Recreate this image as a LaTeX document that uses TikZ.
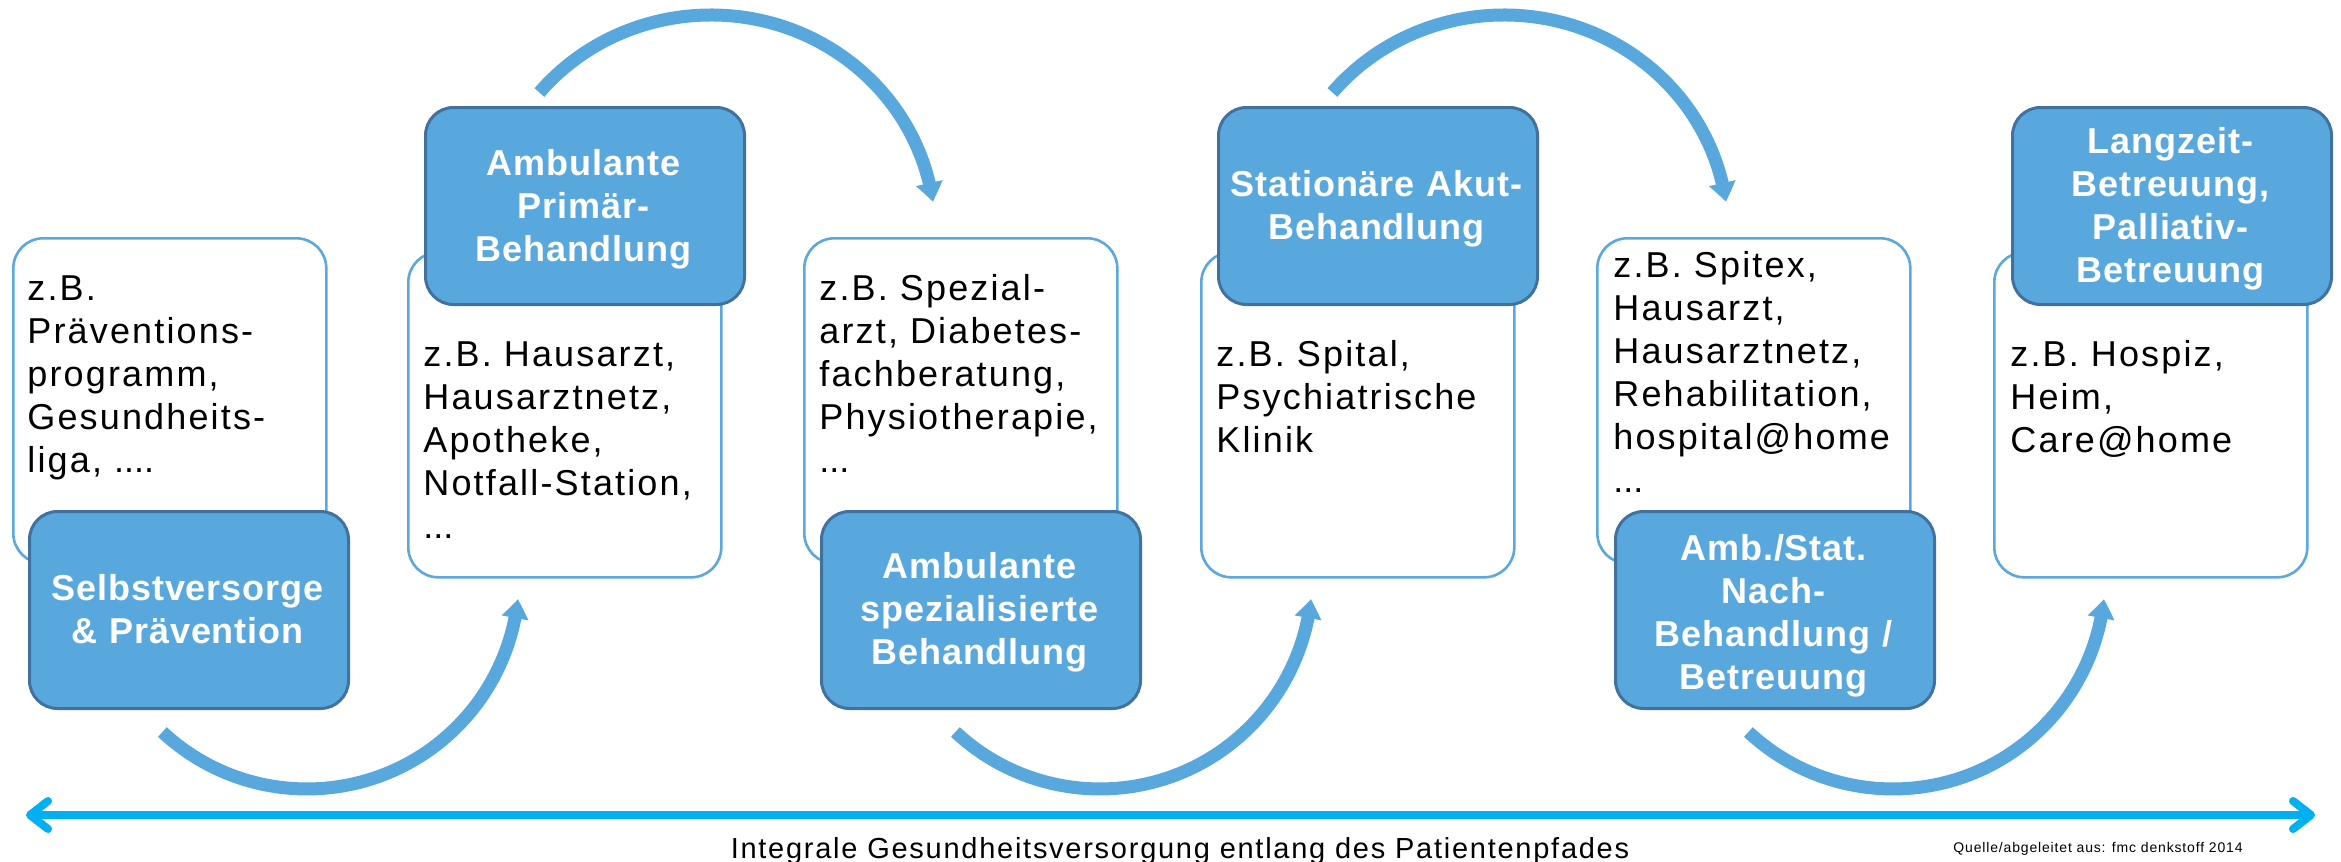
\documentclass[tikz,border=0pt]{standalone}
\usepackage{fontspec}
\setmainfont{Liberation Sans}
\newfontfamily\bodyfont[LetterSpace=6]{Liberation Sans}
\newfontfamily\headfont[LetterSpace=2.5]{Liberation Sans}
\newcommand\closedots[1]{{\addfontfeature{LetterSpace=0}#1}}
\usetikzlibrary{arrows.meta,bending}
\definecolor{stagefill}{HTML}{58A8DE}
\definecolor{stageline}{HTML}{41729F}
\definecolor{cardline}{HTML}{5BA8DE}
\definecolor{patharrow}{HTML}{00B0F0}
\begin{document}
\begin{tikzpicture}[x=0.5pt,y=-0.5pt,
  card/.style={draw=cardline, line width=1.3pt, fill=white, rounded corners=15pt,
    minimum width=156.5pt, minimum height=162.5pt, inner sep=0pt, anchor=north west},
  stage/.style={draw=stageline, line width=1.5pt, fill=stagefill, rounded corners=14pt,
    minimum width=159.5pt, minimum height=98.5pt, inner sep=0pt, anchor=north west},
  cardtext/.style={anchor=base west, inner sep=0pt, text width=150pt, align=left,
    font=\bodyfont\fontsize{18pt}{21.5pt}\selectfont},
  stagetext/.style={anchor=base, inner sep=0pt, text width=158pt, align=center, text=white,
    font=\headfont\bfseries\fontsize{18pt}{21.5pt}\selectfont},
  flow/.style={draw=stagefill, line width=6.5pt, -{Triangle[length=9.5pt,width=13pt,bend]}},
  lifeline/.style={draw=patharrow, line width=4pt,
    {Straight Barb[length=9pt,width=14pt,round]}-{Straight Barb[length=9pt,width=14pt,round]}},
]
\useasboundingbox (0,0) rectangle (2341,862);
\fill[white] (0,0) rectangle (2341,862);

% example cards
\node[card] (w1) at (12,237) {};
\node[card] (w2) at (407,251) {};
\node[card] (w3) at (803,237) {};
\node[card] (w4) at (1200,251) {};
\node[card] (w5) at (1596,237) {};
\node[card] (w6) at (1993,251) {};

% stage boxes
\node[stage] (b1) at (28,510) {};
\node[stage] (b2) at (424,106) {};
\node[stage] (b3) at (820,510) {};
\node[stage] (b4) at (1217,106) {};
\node[stage] (b5) at (1614,510) {};
\node[stage] (b6) at (2011,106) {};

% card contents
\node[cardtext] (t1) at (27,300) {z.B.\\Präventions-\\programm,\\Gesundheits-\\liga, \closedots{....}};
\node[cardtext] (t2) at (423,366) {z.B. Hausarzt,\\Hausarztnetz,\\Apotheke,\\Notfall-Station,\\\closedots{...}};
\node[cardtext] (t3) at (819,300) {z.B. Spezial-\\arzt, Diabetes-\\fachberatung,\\Physiotherapie,\\\closedots{...}};
\node[cardtext] (t4) at (1216,366) {z.B. Spital,\\Psychiatrische\\Klinik};
\node[cardtext] (t5) at (1613,277) {z.B. Spitex,\\Hausarzt,\\Hausarztnetz,\\Rehabilitation,\\hospital@home\\\closedots{...}};
\node[cardtext] (t6) at (2010,366) {z.B. Hospiz,\\Heim,\\Care@home};

% stage titles
\node[stagetext] (s1) at (187.5,600) {Selbstversorge\\\& Prävention};
\node[stagetext] (s2) at (583.5,175) {Ambulante\\Primär-\\Behandlung};
\node[stagetext] (s3) at (979.5,578.5) {Ambulante\\spezialisierte\\Behandlung};
\node[stagetext] (s4) at (1376.5,196) {Stationäre Akut-\\Behandlung};
\node[stagetext] (s5) at (1773.5,560) {Amb./Stat.\\Nach-\\Behandlung /\\Betreuung};
\node[stagetext] (s6) at (2170.5,153) {Langzeit-\\Betreuung,\\Palliativ-\\Betreuung};

% curved transitions between the stages
\coordinate (low1) at (162.4,732);
\coordinate (low2) at (955.4,732);
\coordinate (low3) at (1748.4,732);
\coordinate (high1) at (539.4,92.5);
\coordinate (high2) at (1332.4,92.5);
\draw[flow] (low1) arc[start angle=133, end angle=6, radius=212];
\draw[flow] (low2) arc[start angle=133, end angle=6, radius=212];
\draw[flow] (low3) arc[start angle=133, end angle=6, radius=212];
\draw[flow] (high1) arc[start angle=-140, end angle=-8, x radius=224, y radius=217];
\draw[flow] (high2) arc[start angle=-140, end angle=-8, x radius=224, y radius=217];

% patient pathway
\coordinate (pathL) at (26,815);
\coordinate (pathR) at (2315,815);
\draw[lifeline] (pathL) -- (pathR);

\node[anchor=base, inner sep=0pt, font=\bodyfont\fontsize{14.5pt}{17pt}\selectfont] (caption) at (1180,858)
  {Integrale Gesundheitsversorgung entlang des Patientenpfades};
\node[anchor=base west, inner sep=0pt, font=\bodyfont\fontsize{7pt}{8pt}\selectfont] (source) at (1953,852)
  {Quelle/abgeleitet aus: fmc denkstoff 2014};
\end{tikzpicture}
\end{document}
